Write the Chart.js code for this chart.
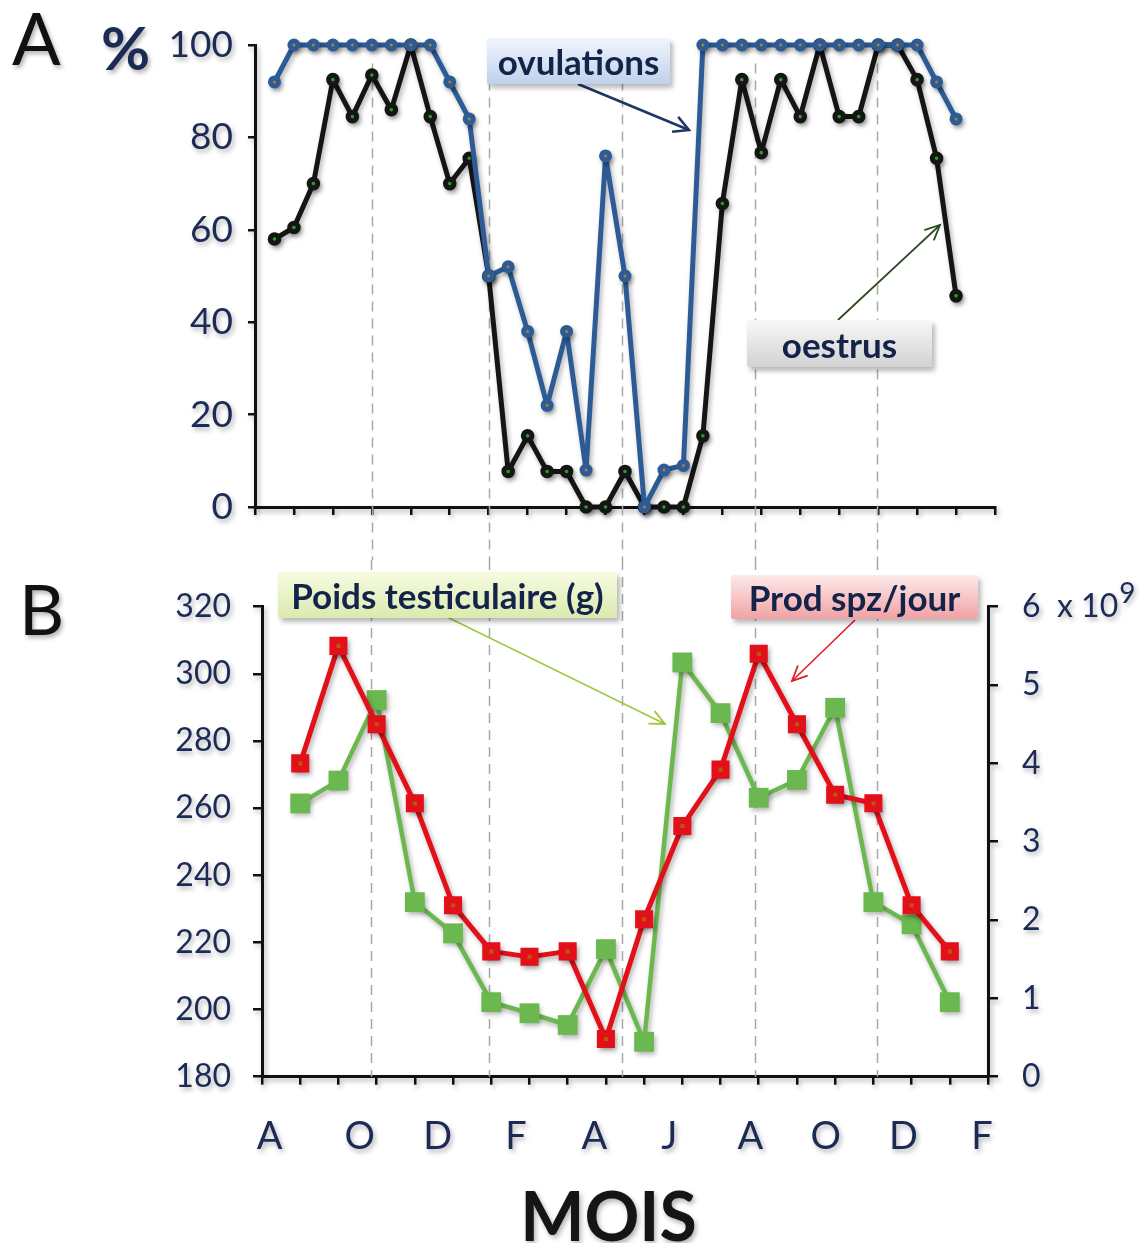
<!DOCTYPE html>
<html>
<head>
<meta charset="utf-8">
<script src="https://cdn.jsdelivr.net/npm/chart.js@4.4.1/dist/chart.umd.min.js"></script>
<style>
  body { margin: 0; background: #fff; width: 1147px; height: 1243px; position: relative; overflow: hidden; font-family: Lato, "Open Sans", sans-serif; }
  canvas { position: absolute; left: 0; }
  #chartA { top: 0; }
  #chartB { top: 560px; }
  .big { position: absolute; line-height: 1; text-shadow: 2px 3px 4px rgba(0,0,0,.3); }
  .note { position: absolute; display: flex; align-items: center; justify-content: center; font: 700 35px Lato, sans-serif; color: #14234a; box-shadow: 3px 4px 5px rgba(0,0,0,.28); border-radius: 2px; }
  svg { position: absolute; left: 0; top: 0; pointer-events: none; }
</style>
</head>
<body>
<canvas id="chartA" width="1147" height="560"></canvas>
<canvas id="chartB" width="1147" height="683"></canvas>

<div class="big" style="left:12px;top:1px;font-size:72px;color:#111;">A</div>
<div class="big" style="left:101px;top:17px;font-size:60px;font-weight:700;color:#1b2b55;">%</div>
<div class="big" style="left:19px;top:573px;font-size:70px;color:#111;">B</div>

<svg width="1147" height="1243">
  <defs>
    <marker id="hNavy" markerWidth="20" markerHeight="20" refX="17" refY="10" orient="auto" markerUnits="userSpaceOnUse">
      <path d="M2,2 L17,10 L2,18" fill="none" stroke="#1e3763" stroke-width="2.5"/>
    </marker>
    <marker id="hGreen" markerWidth="20" markerHeight="20" refX="17" refY="10" orient="auto" markerUnits="userSpaceOnUse">
      <path d="M2,3 L17,10 L2,17" fill="none" stroke="#2c4b22" stroke-width="1.8"/>
    </marker>
    <marker id="hLime" markerWidth="20" markerHeight="20" refX="17" refY="10" orient="auto" markerUnits="userSpaceOnUse">
      <path d="M2,3 L17,10 L2,17" fill="none" stroke="#9cc83a" stroke-width="1.8"/>
    </marker>
    <marker id="hRed" markerWidth="20" markerHeight="20" refX="17" refY="10" orient="auto" markerUnits="userSpaceOnUse">
      <path d="M2,3 L17,10 L2,17" fill="none" stroke="#e31b23" stroke-width="1.8"/>
    </marker>
  </defs>
  <line x1="578" y1="84" x2="689" y2="130" stroke="#1e3763" stroke-width="2.5" marker-end="url(#hNavy)"/>
  <line x1="838" y1="320" x2="940" y2="225" stroke="#2c4b22" stroke-width="1.8" marker-end="url(#hGreen)"/>
  <line x1="447" y1="617" x2="665" y2="724" stroke="#9cc83a" stroke-width="1.6" marker-end="url(#hLime)"/>
  <line x1="855" y1="620" x2="792" y2="681" stroke="#e31b23" stroke-width="1.6" marker-end="url(#hRed)"/>
</svg>

<div class="note" style="left:487px;top:38px;width:183px;height:46px;background:linear-gradient(#f1f5fc,#bfd1ed);">ovulations</div>
<div class="note" style="left:747px;top:320px;width:185px;height:47px;background:linear-gradient(#f8f8f8,#d2d2d2);">oestrus</div>
<div class="note" style="left:278px;top:572px;width:339px;height:46px;background:linear-gradient(#f6fbe1,#dbeaae);">Poids testiculaire (g)</div>
<div class="note" style="left:731px;top:575px;width:247px;height:44px;background:linear-gradient(#fdeaea,#f0a2a4);">Prod spz/jour</div>

<script>
const navy = '#1b2b55';
const family = 'Lato, "Open Sans", sans-serif';

// A: % of ewes, one value per half-month
const ovulations = [92, 100, 100, 100, 100, 100, 100, 100, 100, 92, 84, 50, 52, 38, 22, 38, 8, 76,
                    50, 0, 8, 9, 100, 100, 100, 100, 100, 100, 100, 100, 100, 100, 100, 100, 92, 84];
const oestrus = [58, 60.5, 70, 92.5, 84.5, 93.5, 86, 100, 84.5, 70, 75.5, 50, 7.7, 15.4, 7.7, 7.7, 0, 0,
                 7.7, 0, 0, 0, 15.4, 65.7, 92.5, 76.7, 92.5, 84.5, 100, 84.5, 84.5, 100, 100, 92.5, 75.5, 45.7];
const seasonMarksA = [5, 11, 17.85, 24.7, 30.95];

// B: one value per month
const testicularWeight = [261.4, 268.2, 292.2, 232, 222.7, 202.2, 198.9, 195.4, 218, 190.4, 303.4, 288.3,
                          263.1, 268.4, 289.9, 232, 225.4, 202.2];
const spermProduction = [4.0, 5.5, 4.5, 3.49, 2.19, 1.6, 1.53, 1.6, 0.48, 2.01, 3.2, 3.92, 5.4, 4.5, 3.6,
                         3.49, 2.19, 1.6];
const months = ['A', 'O', 'D', 'F', 'A', 'J', 'A', 'O', 'D', 'F'];
const monthPos = [0.2, 2.56, 4.6, 6.65, 8.7, 10.66, 12.78, 14.75, 16.79, 18.84];
const seasonMarksB = [2.86, 5.94, 9.43, 12.9, 16.1];

const xy = (arr, start) => arr.map((v, i) => ({ x: i + start, y: v }));

// soft Office-like shadow on everything the chart draws
const softShadow = {
    id: 'softShadow',
    beforeDraw(chart) {
        const c = chart.ctx;
        c.save();
        c.shadowColor = 'rgba(0,0,0,0.3)';
        c.shadowBlur = 5;
        c.shadowOffsetX = 2;
        c.shadowOffsetY = 3;
    },
    afterDraw(chart) {
        chart.ctx.restore();
    }
};

function seasonLines(marks, top, bottom) {
    return {
        id: 'seasonLines',
        beforeDatasetsDraw(chart) {
            const { ctx } = chart;
            const x = chart.scales.x;
            ctx.save();
            ctx.shadowColor = 'transparent';
            ctx.setLineDash([10, 7]);
            ctx.strokeStyle = '#a8a8a8';
            ctx.lineWidth = 1.5;
            marks.forEach(m => {
                const px = Math.round(x.getPixelForValue(m)) + 0.5;
                ctx.beginPath();
                ctx.moveTo(px, top(chart));
                ctx.lineTo(px, bottom(chart));
                ctx.stroke();
            });
            ctx.restore();
        }
    };
}

const axisGrid = len => ({ drawOnChartArea: false, color: '#111', lineWidth: 2.5, tickLength: len });
const axisBorder = { color: '#111', width: 3 };
const common = {
    responsive: false,
    animation: false,
    events: [],
    elements: { line: { borderJoinStyle: 'round', borderCapStyle: 'round', tension: 0 } },
    plugins: { legend: { display: false }, tooltip: { enabled: false } }
};

// Chart A
new Chart(document.getElementById('chartA'), {
    type: 'line',
    data: {
        datasets: [
            {
                label: 'ovulations',
                data: xy(ovulations, 0),
                borderColor: '#2c5b95',
                borderWidth: 5,
                pointRadius: 4,
                pointBorderWidth: 5,
                pointBorderColor: '#2c5b95',
                pointBackgroundColor: '#e8a23a',
                clip: false
            },
            {
                label: 'oestrus',
                data: xy(oestrus, 0),
                borderColor: '#151515',
                borderWidth: 5,
                pointRadius: 4.3,
                pointBorderWidth: 5,
                pointBorderColor: '#151515',
                pointBackgroundColor: '#3ec43e',
                clip: false
            }
        ]
    },
    options: {
        ...common,
        layout: { padding: { top: 45, left: 0, right: 152, bottom: 45 } },
        scales: {
            x: {
                type: 'linear', min: -1, max: 37,
                afterBuildTicks: s => {
                    s.ticks = [];
                    for (let v = -1; v <= 37; v += 2) s.ticks.push({ value: v });
                },
                ticks: { display: false },
                grid: axisGrid(8),
                border: axisBorder,
                afterFit: s => { s.height = 8; }
            },
            y: {
                min: 0, max: 100,
                ticks: { stepSize: 20, color: navy, font: { family, size: 37 }, padding: 15 },
                grid: axisGrid(7),
                border: axisBorder,
                afterFit: s => { s.width = 255; }
            }
        }
    },
    plugins: [softShadow, seasonLines(seasonMarksA, c => c.scales.y.getPixelForValue(96), c => c.height)]
});

// Chart B
const supNine = {
    id: 'supNine',
    afterDraw(chart) {
        const s = chart.scales.y2;
        const ctx = chart.ctx;
        ctx.save();
        ctx.font = '32px ' + family;
        const w = ctx.measureText('6  x 10').width;
        ctx.font = '28px ' + family;
        ctx.fillStyle = navy;
        ctx.textBaseline = 'middle';
        ctx.shadowColor = 'rgba(0,0,0,0.3)';
        ctx.shadowBlur = 5;
        ctx.shadowOffsetX = 2;
        ctx.shadowOffsetY = 3;
        ctx.fillText('9', s.left + 34 + w + 1, s.getPixelForValue(6) - 13);
        ctx.restore();
    }
};

new Chart(document.getElementById('chartB'), {
    type: 'line',
    data: {
        datasets: [
            {
                label: 'Prod spz/jour',
                data: xy(spermProduction, 1),
                yAxisID: 'y2',
                borderColor: '#e3101a',
                borderWidth: 5,
                pointStyle: 'rect',
                pointRadius: 7.8,
                pointBorderWidth: 7,
                pointBorderColor: '#e3101a',
                pointBackgroundColor: '#f07a16',
                clip: false
            },
            {
                label: 'Poids testiculaire (g)',
                data: xy(testicularWeight, 1),
                yAxisID: 'y',
                borderColor: '#6bb850',
                borderWidth: 4.5,
                pointStyle: 'rect',
                pointRadius: 14,
                pointBorderWidth: 0,
                pointBackgroundColor: '#6bb850',
                clip: false
            }
        ]
    },
    options: {
        ...common,
        layout: { padding: { top: 46.7, left: 0, right: 0, bottom: 0 } },
        scales: {
            x: {
                type: 'linear', min: 0, max: 19,
                afterBuildTicks: s => {
                    s.ticks = [];
                    for (let v = 0; v <= 19; v++) s.ticks.push({ value: v });
                },
                ticks: { display: false },
                grid: axisGrid(8),
                border: axisBorder,
                afterFit: s => { s.height = 8; }
            },
            xm: {
                type: 'linear', position: 'bottom', weight: 1, min: 0, max: 19,
                afterBuildTicks: s => { s.ticks = monthPos.map(v => ({ value: v })); },
                ticks: {
                    callback: (v, i) => months[i],
                    color: navy, font: { family, size: 38 }, padding: 29,
                    maxRotation: 0, autoSkip: false
                },
                grid: { display: false, drawTicks: false },
                border: { display: false },
                title: {
                    display: true, text: 'MOIS  ', color: '#151515', padding: 0,
                    font: { family, size: 68, weight: 'bold', lineHeight: 0.7 }
                },
                afterFit: s => { s.height = 158.3; }
            },
            y: {
                position: 'left', min: 180, max: 320,
                ticks: { stepSize: 20, color: navy, font: { family, size: 32 }, padding: 22 },
                grid: axisGrid(9),
                border: axisBorder,
                afterFit: s => { s.width = 262; }
            },
            y2: {
                position: 'right', min: 0, max: 6,
                ticks: {
                    stepSize: 1, color: navy, font: { family, size: 32 }, padding: 24,
                    callback: v => (v === 6 ? '6  x 10' : v)
                },
                grid: axisGrid(10),
                border: axisBorder,
                afterFit: s => { s.width = 159; }
            }
        }
    },
    plugins: [softShadow, seasonLines(seasonMarksB, () => 0, c => c.chartArea.bottom), supNine]
});
</script>
</body>
</html>
